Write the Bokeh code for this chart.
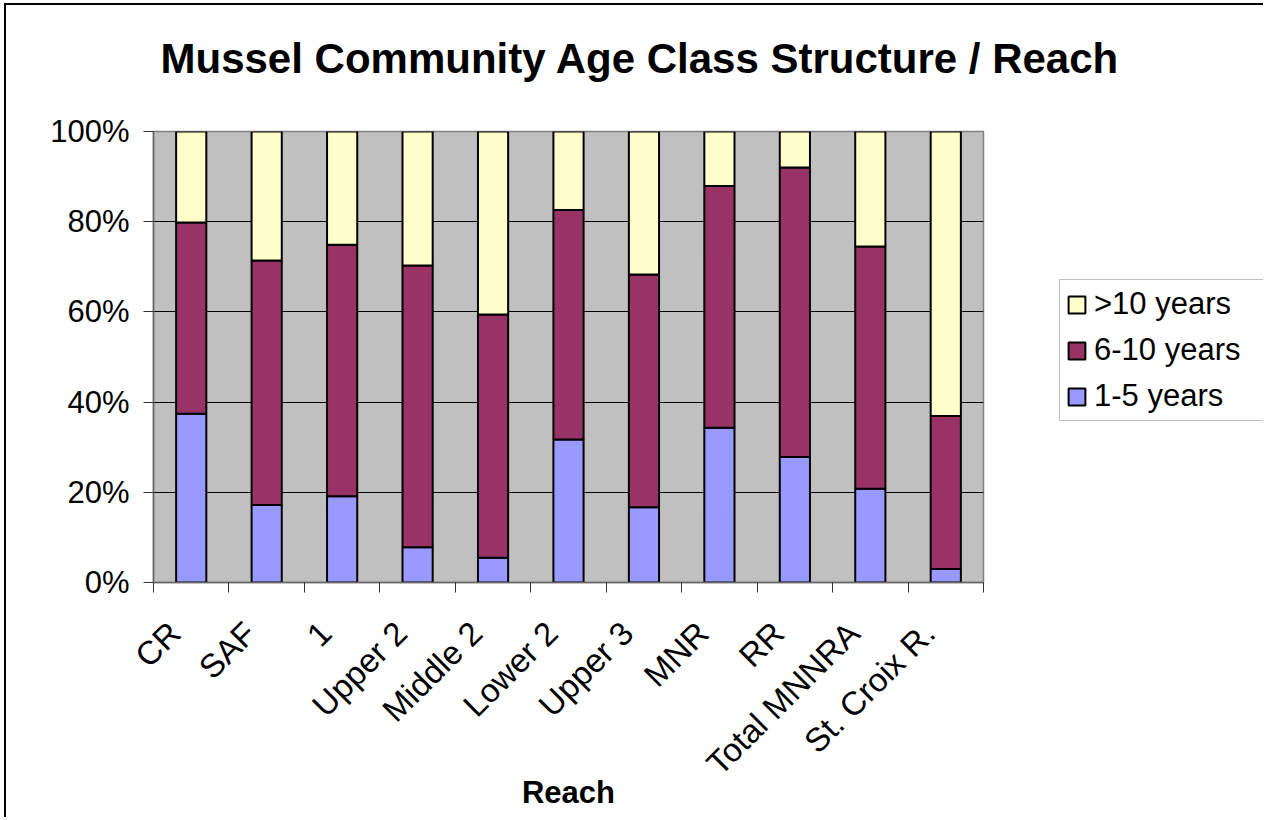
import numpy as np
from bokeh.plotting import figure
from bokeh.layouts import row, column
from bokeh.models import (Range1d, FixedTicker, PrintfTickFormatter, Legend, LegendItem,
                          ColumnDataSource, Spacer)
from bokeh.embed import file_html
from bokeh.resources import INLINE

categories = ["CR", "SAF", "1", "Upper 2", "Middle 2", "Lower 2", "Upper 3", "MNR", "RR", "Total MNNRA", "St. Croix R."]
series_names = ["1-5 years", "6-10 years", ">10 years"]
age_1_5 = [37.4, 17.2, 19.1, 7.8, 5.5, 31.7, 16.7, 34.3, 27.8, 20.8, 3.0]
age_6_10 = [42.4, 54.2, 55.8, 62.5, 53.9, 50.9, 51.6, 53.6, 64.2, 53.7, 33.9]
age_gt10 = [20.2, 28.6, 25.1, 29.7, 40.6, 17.4, 31.7, 12.1, 8.0, 25.5, 63.1]
y_ticks = [0, 20, 40, 60, 80, 100]
colors = ["#9999FF", "#993366", "#FFFFCC"]
title_text = "Mussel Community Age Class Structure / Reach"

FONT = "Liberation Sans"
n = len(categories)
centers = list(np.arange(n) + 0.5)
bounds = list(np.arange(n + 1).astype(float))
label_pos = [round(c - 0.22, 3) for c in centers]  # where rotated labels end (Excel style)

src = ColumnDataSource(dict(x=centers, a=age_1_5, b=age_6_10, c=age_gt10))

TOTAL_W = 1257
MAIN_W = 1000
LEG_W = TOTAL_W - MAIN_W
TOP_PAD = 25
TITLE_H = 75
MAIN_H = 712
BL, BR = 147, 23

# ---- title strip ----
pt = figure(width=TOTAL_W, height=TITLE_H, output_backend="svg", toolbar_location=None,
            x_range=Range1d(0, 1), y_range=Range1d(0, 1),
            min_border_left=BL, min_border_right=TOTAL_W - MAIN_W + BR,
            min_border_top=0, min_border_bottom=0)
pt.axis.visible = False
pt.grid.visible = False
pt.outline_line_color = None
pt.background_fill_color = "white"
pt.border_fill_color = "white"
pt.title.text = title_text
pt.title.text_font = FONT
pt.title.text_font_size = "42px"
pt.title.text_font_style = "bold"
pt.title.text_color = "black"
pt.title.align = "left"
pt.title.offset = 7
pt.title.standoff = 5

# ---- main chart ----
p = figure(width=MAIN_W, height=MAIN_H, output_backend="svg", toolbar_location=None, title=None,
           x_range=Range1d(0, n), y_range=Range1d(0, 100),
           min_border_left=BL, min_border_right=BR, min_border_top=26, min_border_bottom=235)

p.background_fill_color = "#C0C0C0"
p.border_fill_color = "white"
p.outline_line_color = "#808080"
p.outline_line_width = 1.5

renderers = p.vbar_stack(["a", "b", "c"], x="x", width=0.4, source=src, color=colors,
                         line_color="black", line_width=2)

xa = p.xaxis[0]
xa.ticker = FixedTicker(ticks=label_pos, minor_ticks=bounds)
xa.major_label_overrides = {c: name for c, name in zip(label_pos, categories)}
xa.major_label_orientation = np.pi / 4
xa.major_tick_line_color = None
xa.minor_tick_line_color = "#333333"
xa.minor_tick_out = 10
xa.minor_tick_in = 0
xa.axis_line_color = "#666666"
xa.axis_line_width = 1.5
xa.major_label_text_font = FONT
xa.major_label_text_font_size = "33px"
xa.major_label_text_color = "black"
xa.major_label_standoff = 35
xa.axis_label = "Reach"
xa.axis_label_text_font = FONT
xa.axis_label_text_font_size = "31px"
xa.axis_label_text_font_style = "bold"
xa.axis_label_text_color = "black"
xa.axis_label_standoff = -23

ya = p.yaxis[0]
ya.ticker = FixedTicker(ticks=y_ticks)
ya.formatter = PrintfTickFormatter(format="%d%%")
ya.major_tick_out = 10
ya.major_tick_in = 0
ya.major_tick_line_color = "#333333"
ya.minor_tick_line_color = None
ya.axis_line_color = "#666666"
ya.axis_line_width = 1.5
ya.major_label_text_font = FONT
ya.major_label_text_font_size = "31px"
ya.major_label_text_color = "black"
ya.major_label_standoff = 14

p.xgrid.grid_line_color = None
p.ygrid.grid_line_color = "black"
p.ygrid.grid_line_width = 1
p.ygrid.ticker = FixedTicker(ticks=y_ticks[1:-1])

# ---- legend panel (legend-only swatches, with no drawable data) ----
p2 = figure(width=LEG_W, height=MAIN_H, output_backend="svg", toolbar_location=None, title=None,
            x_range=Range1d(0, 1), y_range=Range1d(0, 1),
            min_border_left=0, min_border_right=0, min_border_top=0, min_border_bottom=0)
p2.axis.visible = False
p2.grid.visible = False
p2.outline_line_color = None
p2.background_fill_color = "white"
p2.border_fill_color = "white"
swatch_src = ColumnDataSource(dict(x=[np.nan], top=[np.nan], bottom=[np.nan]))
swatches = [p2.vbar(x="x", top="top", bottom="bottom", width=0.1, source=swatch_src,
                    fill_color=colors[i], line_color="black", line_width=2)
            for i in range(3)]

legend = Legend(items=[LegendItem(label=series_names[i], renderers=[swatches[i]]) for i in (2, 1, 0)],
                location=(53, 161))
legend.label_text_font = FONT
legend.label_text_font_size = "31px"
legend.label_text_color = "black"
legend.glyph_width = 21
legend.glyph_height = 21
legend.spacing = 10
legend.padding = 6
legend.margin = 0
legend.label_standoff = 7
legend.label_width = 166
legend.border_line_color = "#808080"
legend.border_line_width = 1.5
legend.background_fill_color = "white"
legend.background_fill_alpha = 1
p2.add_layout(legend, "center")

layout = column(Spacer(width=TOTAL_W, height=TOP_PAD), pt, row(p, p2, spacing=0), spacing=0)
layout.styles = {"border-left": "2px solid black", "border-top": "2px solid black",
                 "margin-left": "4px", "margin-top": "3px"}

open("out.html", "w").write(file_html(layout, INLINE))
